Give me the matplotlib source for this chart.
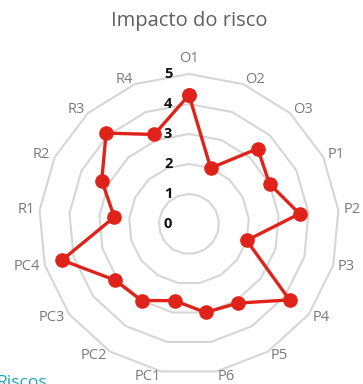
import numpy as np
import matplotlib
matplotlib.use("Agg")
import matplotlib.pyplot as plt

categories = ["O1", "O2", "O3", "P1", "P2", "P3", "P4", "P5", "P6",
              "PC1", "PC2", "PC3", "PC4", "R1", "R2", "R3", "R4"]
impact = [4.3, 2.0, 3.4, 3.0, 3.7, 2.0, 4.2, 3.1, 3.0,
          2.6, 3.0, 3.1, 4.4, 2.5, 3.25, 4.1, 3.2]
ring_values = [0, 1, 2, 3, 4, 5]
title = "Impacto do risco"
legend_label = "Riscos"

plt.rcParams["font.family"] = ["Open Sans", "DejaVu Sans"]

W, H = 363, 384
fig = plt.figure(figsize=(W / 100, H / 100), dpi=100)

cx, cy, R = 189, 224, 150
ax = fig.add_axes([(cx - R) / W, (H - cy - R) / H, 2 * R / W, 2 * R / H],
                  projection="polar")
ax.set_theta_zero_location("N")
ax.set_theta_direction(-1)
ax.set_ylim(0, max(ring_values))
ax.grid(False)
ax.spines["polar"].set_visible(False)
ax.set_xticks([])
ax.set_yticks([])
ax.patch.set_alpha(0)

n = len(categories)
angles = np.linspace(0, 2 * np.pi, n, endpoint=False)
closed = np.append(angles, angles[0])

# polygonal grid rings
for v in ring_values[1:]:
    ax.plot(closed, [v] * (n + 1), color="#d6d6d6", lw=1.5, zorder=1,
            clip_on=False)

# radial value labels, just left of the top spoke
for v in ring_values:
    ax.annotate(str(v), xy=(0, v), xytext=(-12, 0), textcoords="offset points",
                ha="right", va="center", fontsize=10.5, fontweight="bold",
                color="#111111", zorder=2)

# category labels, anchored outward from the outer ring
top = max(ring_values)
for a, name in zip(angles, categories):
    s, c = np.sin(a), np.cos(a)
    if abs(s) < 0.05:
        ax.text(a, top * 1.08, name, ha="center", va="baseline",
                fontsize=10.5, color="#7a7a7a")
    else:
        ax.text(a, top * 1.033, name, ha="left" if s > 0 else "right",
                va="center", fontsize=10.5, color="#7a7a7a")

vals = np.append(impact, impact[0])
ax.plot(closed, vals, color="#e0231a", lw=2.4, marker="o", ms=9.5,
        markeredgecolor="#e0231a", zorder=3, clip_on=False)

fig.text(cx / W, 1 - 21 / H, title, ha="center", va="center", fontsize=14.5,
         color="#5f5f5f")
fig.text(-0.01, 1 - 375 / H, legend_label, ha="left", va="top", fontsize=12.5,
         color="#1aa5b8")

fig.savefig("out.png", dpi=100)
